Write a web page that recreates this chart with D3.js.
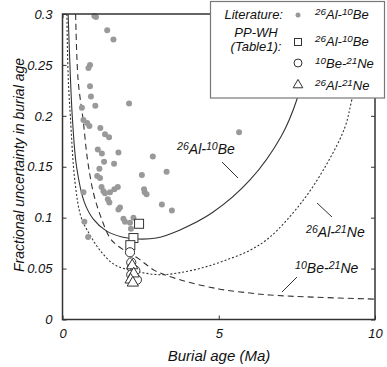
<!DOCTYPE html>
<html><head><meta charset="utf-8">
<script src="https://cdn.jsdelivr.net/npm/d3@7"></script>
<style>
body{margin:0;background:#fff;}
svg{display:block;font-family:"Liberation Sans",Arial,sans-serif;}
</style></head>
<body><svg id="c" width="387" height="367"></svg>
<script>
// ---- data ----
const xTicks = [0, 5, 10];
const xTickLabels = ["0", "5", "10"];
const yTicks = [0, 0.05, 0.1, 0.15, 0.2, 0.25, 0.3];
const yTickLabels = ["0", "0.05", "0.1", "0.15", "0.2", "0.25", "0.3"];

// Literature 26Al-10Be (burial age Ma, fractional uncertainty)
const litX = [1.02,1.07,1.43,1.63,0.88,0.83,0.88,0.91,2.13,1.05,0.62,0.67,0.79,0.86,1.21,1.36,1.49,1.13,1.26,1.79,2.89,1.33,1.65,1.18,1.11,1.20,2.54,3.33,0.67,1.25,1.31,1.52,1.66,1.77,1.36,2.61,2.63,2.69,1.45,1.50,1.84,1.79,3.18,3.50,5.65,1.95,2.00,2.27,2.16,2.19,0.70,0.82];
const litY = [0.298,0.297,0.284,0.275,0.250,0.247,0.229,0.219,0.212,0.210,0.208,0.196,0.193,0.190,0.188,0.182,0.179,0.167,0.163,0.164,0.160,0.155,0.153,0.148,0.141,0.139,0.142,0.145,0.125,0.130,0.126,0.125,0.128,0.130,0.124,0.128,0.125,0.123,0.118,0.115,0.110,0.108,0.113,0.107,0.184,0.099,0.096,0.100,0.095,0.089,0.096,0.081];

// PP-WH (Table1)
const sqX = [2.45, 2.27, 2.17];
const sqY = [0.094, 0.080, 0.073];
const ciX = [2.16, 2.20, 2.22, 2.33, 2.20, 2.38];
const ciY = [0.066, 0.056, 0.051, 0.048, 0.044, 0.039];
const trX = [2.23, 2.28, 2.18, 2.25];
const trY = [0.053, 0.045, 0.039, 0.036];

// model curves
const alBeX = [0.18,0.25,0.32,0.45,0.7,1.0,1.4,1.9,2.4,3.0,3.76,4.8,6.0,7.0,7.5,7.8,8.1];
const alBeY = [0.30,0.24,0.196,0.15,0.115,0.098,0.087,0.081,0.079,0.080,0.088,0.105,0.137,0.18,0.216,0.255,0.30];
const alNeX = [0.14,0.18,0.25,0.4,0.6,0.88,1.2,1.68,2.4,3.12,3.76,4.5,5.2,6.0,6.64,7.7,8.5,9.04,9.26,9.6,9.9];
const alNeY = [0.30,0.24,0.20,0.135,0.10,0.083,0.068,0.0535,0.047,0.044,0.046,0.051,0.058,0.068,0.081,0.117,0.155,0.189,0.216,0.26,0.30];
const beNeX = [0.42,0.5,0.66,0.8,1.0,1.26,1.52,1.78,2.42,2.96,3.76,5.0,6.0,6.64,8.0,10.0];
const beNeY = [0.30,0.235,0.196,0.157,0.123,0.098,0.08,0.072,0.06,0.048,0.039,0.030,0.026,0.024,0.022,0.020];

// ---- chart ----
const svg = d3.select("#c");
const x = d3.scaleLinear().domain([0, 10]).range([62.5, 375]);
const y = d3.scaleLinear().domain([0, 0.3]).range([319.5, 14]);
const ink = "#333";

svg.append("defs").append("clipPath").attr("id", "clip")
  .append("rect").attr("x", 62.5).attr("y", 14).attr("width", 312.5).attr("height", 305.5);

// axes
const axL = svg.append("g").attr("transform", `translate(${x(0)},0)`)
  .call(d3.axisLeft(y).tickValues(yTicks).tickFormat((d, i) => yTickLabels[i]).tickSizeInner(-4).tickSizeOuter(0).tickPadding(10));
const axB = svg.append("g").attr("transform", `translate(0,${y(0)})`)
  .call(d3.axisBottom(x).tickValues(xTicks).tickFormat((d, i) => xTickLabels[i]).tickSizeInner(-4).tickSizeOuter(0).tickPadding(9));
const axR = svg.append("g").attr("transform", `translate(${x(10)},0)`)
  .call(d3.axisRight(y).tickValues(yTicks).tickFormat("").tickSizeInner(-4).tickSizeOuter(0));
const axT = svg.append("g").attr("transform", `translate(0,${y(0.3)})`)
  .call(d3.axisTop(x).tickValues(xTicks).tickFormat("").tickSizeInner(-4).tickSizeOuter(0));
[axL, axB, axR, axT].forEach(a => {
  a.select(".domain").remove();
  a.selectAll("line").attr("stroke", ink);
  a.selectAll("text").attr("font-size", 13).attr("font-style", "italic").attr("fill", "#111")
    .attr("font-family", "Liberation Sans, Arial, sans-serif");
});

// curves
const line = d3.line().x(d => x(d[0])).y(d => y(d[1])).curve(d3.curveCatmullRom.alpha(0.5));
const curves = svg.append("g").attr("clip-path", "url(#clip)").attr("fill", "none").attr("stroke", ink).attr("stroke-width", 1.1);
curves.append("path").attr("d", line(alBeX.map((v, i) => [v, alBeY[i]])));
curves.append("path").attr("d", line(alNeX.map((v, i) => [v, alNeY[i]]))).attr("stroke-dasharray", "2,2");
curves.append("path").attr("d", line(beNeX.map((v, i) => [v, beNeY[i]]))).attr("stroke-dasharray", "6,4");

// literature dots
svg.append("g").selectAll("circle").data(litX.map((v, i) => [v, litY[i]])).join("circle")
  .attr("cx", d => x(d[0])).attr("cy", d => y(d[1])).attr("r", 3).attr("fill", "#999");

// PP-WH markers
const mk = svg.append("g").attr("fill", "#fff").attr("stroke", ink).attr("stroke-width", 1);
mk.selectAll("rect").data(sqX.map((v, i) => [v, sqY[i]])).join("rect")
  .attr("x", d => x(d[0]) - 4.5).attr("y", d => y(d[1]) - 4.5).attr("width", 9).attr("height", 9);
mk.selectAll("circle").data(ciX.map((v, i) => [v, ciY[i]])).join("circle")
  .attr("cx", d => x(d[0])).attr("cy", d => y(d[1])).attr("r", 4.6);
const tri = d3.symbol().type(d3.symbolTriangle).size(55);
mk.selectAll("path").data(trX.map((v, i) => [v, trY[i]])).join("path")
  .attr("d", tri).attr("transform", d => `translate(${x(d[0])},${y(d[1])})`);

// frame
svg.append("rect").attr("x", 62.5).attr("y", 14).attr("width", 312.5).attr("height", 305.5)
  .attr("fill", "none").attr("stroke", ink).attr("stroke-width", 1.5);

// isotope label helper
function iso(g, px, py, parts, fs) {
  const t = g.append("text").attr("x", px).attr("y", py).attr("font-size", fs)
    .attr("font-style", "italic").attr("fill", "#111");
  parts.forEach(p => {
    const s = t.append("tspan").text(p[0]);
    if (p[1]) s.attr("font-size", fs * 0.76).attr("baseline-shift", "40%");
  });
  return t;
}
const AlBe = [["26", 1], ["Al-", 0], ["10", 1], ["Be", 0]];
const BeNe = [["10", 1], ["Be-", 0], ["21", 1], ["Ne", 0]];
const AlNe = [["26", 1], ["Al-", 0], ["21", 1], ["Ne", 0]];

// curve labels + leaders
const ann = svg.append("g");
iso(ann, 177, 154, AlBe, 14);
iso(ann, 306, 237, AlNe, 14);
iso(ann, 295, 273, BeNe, 14);
const leaders = [[222, 162, 238, 178], [317, 203, 332, 217], [297, 277, 282, 292]];
ann.selectAll("line").data(leaders).join("line")
  .attr("x1", d => d[0]).attr("y1", d => d[1]).attr("x2", d => d[2]).attr("y2", d => d[3])
  .attr("stroke", ink).attr("stroke-width", 1);

// axis titles
svg.append("text").attr("x", 219).attr("y", 361).attr("text-anchor", "middle")
  .attr("font-size", 15).attr("font-style", "italic").attr("fill", "#111").text("Burial age (Ma)");
svg.append("text").attr("transform", "translate(24,165) rotate(-90)").attr("text-anchor", "middle")
  .attr("font-size", 14).attr("font-style", "italic").attr("fill", "#111").text("Fractional uncertainty in burial age");

// legend
const lg = svg.append("g");
lg.append("rect").attr("x", 210.5).attr("y", 1.5).attr("width", 174).attr("height", 96.5)
  .attr("fill", "#fff").attr("stroke", "#777").attr("stroke-width", 1.2);
const lt = (t, px, py, anchor) => lg.append("text").attr("x", px).attr("y", py).attr("text-anchor", anchor)
  .attr("font-size", 13).attr("font-style", "italic").attr("fill", "#111").text(t);
lt("Literature:", 283, 19, "end");
lt("PP-WH", 256, 37, "middle");
lt("(Table1):", 256, 51, "middle");
lg.append("circle").attr("cx", 298).attr("cy", 15).attr("r", 2.5).attr("fill", "#999");
lg.append("rect").attr("x", 294.5).attr("y", 38.5).attr("width", 7).attr("height", 7)
  .attr("fill", "#fff").attr("stroke", ink);
lg.append("circle").attr("cx", 298).attr("cy", 63).attr("r", 4).attr("fill", "#fff").attr("stroke", ink);
lg.append("path").attr("d", d3.symbol().type(d3.symbolTriangle).size(40)).attr("transform", "translate(298,85)")
  .attr("fill", "#fff").attr("stroke", ink);
iso(lg, 315, 19, AlBe, 13);
iso(lg, 315, 46, AlBe, 13);
iso(lg, 315, 68, BeNe, 13);
iso(lg, 315, 90, AlNe, 13);
</script></body></html>
